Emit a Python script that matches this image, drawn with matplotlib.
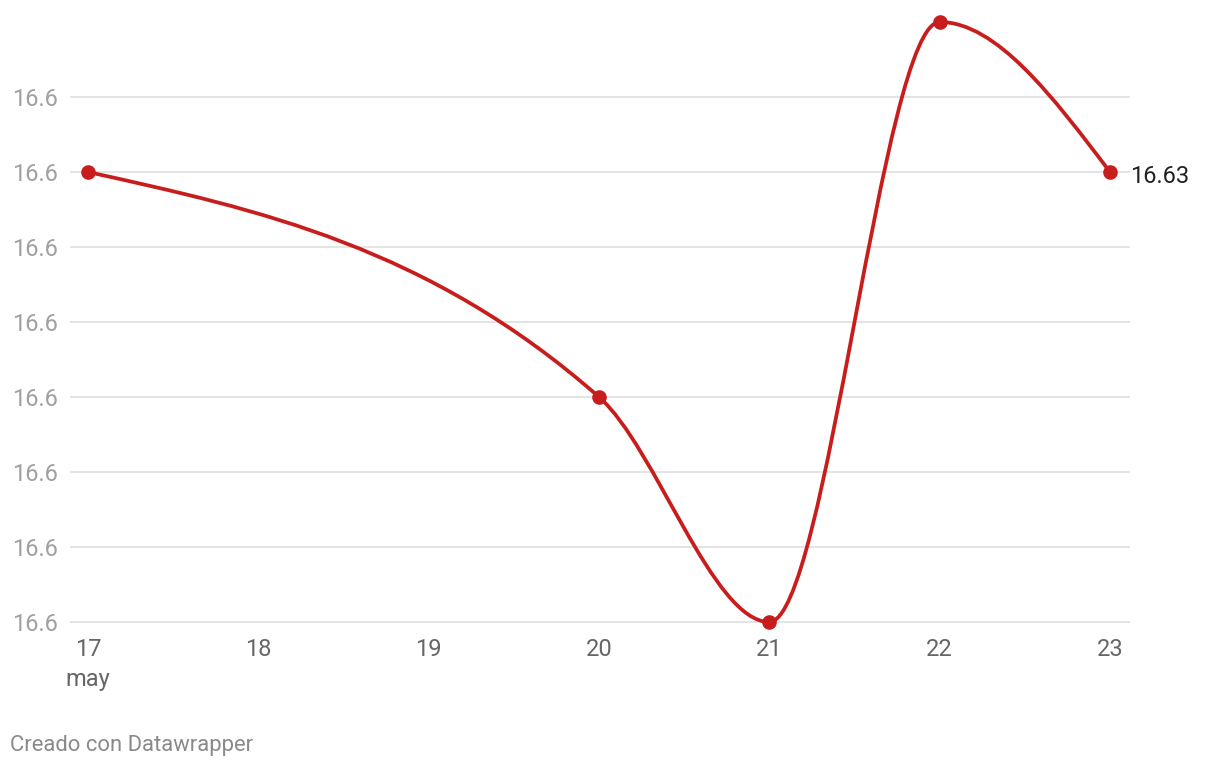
import numpy as np
import matplotlib
matplotlib.use("Agg")
import matplotlib.pyplot as plt
from matplotlib.path import Path
from matplotlib.patches import PathPatch
from matplotlib.ticker import FormatStrFormatter

plt.rcParams['font.family'] = ['Roboto', 'DejaVu Sans']

# data: days of May and values
days = [17, 20, 21, 22, 23]
values = [16.630, 16.627, 16.624, 16.632, 16.630]
x_ticks = [17, 18, 19, 20, 21, 22, 23]
y_ticks = [16.624, 16.625, 16.626, 16.627, 16.628, 16.629, 16.630, 16.631]
month_label = "may"
last_label = "16.63"
footer = "Creado con Datawrapper"

RED = "#c71e1d"


def monotone_path(x, y):
    # d3 curveMonotoneX style cubic bezier path
    x = np.asarray(x, float)
    y = np.asarray(y, float)
    n = len(x)
    h = np.diff(x)
    s = np.diff(y) / h
    t = np.zeros(n)
    for i in range(1, n - 1):
        p = (s[i - 1] * h[i] + s[i] * h[i - 1]) / (h[i - 1] + h[i])
        t[i] = (np.sign(s[i - 1]) + np.sign(s[i])) * min(abs(s[i - 1]), abs(s[i]), 0.5 * abs(p))
    t[0] = (3 * s[0] - t[1]) / 2
    t[-1] = (3 * s[-1] - t[-2]) / 2
    verts = [(x[0], y[0])]
    codes = [Path.MOVETO]
    for i in range(n - 1):
        dx = (x[i + 1] - x[i]) / 3
        verts += [(x[i] + dx, y[i] + dx * t[i]),
                  (x[i + 1] - dx, y[i + 1] - dx * t[i + 1]),
                  (x[i + 1], y[i + 1])]
        codes += [Path.CURVE4] * 3
    return Path(verts, codes)


W, H = 1220, 768
fig = plt.figure(figsize=(W / 100, H / 100), dpi=100)
ax = fig.add_axes([70 / W, (H - 630) / H, 1060 / W, 620 / H])

px_day = (1110 - 88) / 6
ax.set_xlim(17 - 18 / px_day, 23 + 20 / px_day)
ax.set_ylim(16.624 - 8 / 75 * 0.001, 16.632 + 12 / 75 * 0.001)

for yt in y_ticks:
    ax.axhline(yt, color="#e2e2e2", lw=1.3, zorder=1)

ax.add_patch(PathPatch(monotone_path(days, values), fill=False,
                       edgecolor=RED, lw=2.7, zorder=3, capstyle='round'))
ax.plot(days, values, 'o', color=RED, ms=9.5, zorder=4)

ax.text(days[-1] + 20 / px_day, values[-1] - 4 / 75 * 0.001, last_label,
        ha='left', va='center', fontsize=17, color="#222222")

ax.set_xticks(x_ticks)
ax.set_yticks(y_ticks)
ax.yaxis.set_major_formatter(FormatStrFormatter('%.1f'))
ax.tick_params(axis='y', length=0, pad=9, labelsize=17, labelcolor="#a0a0a0")
ax.tick_params(axis='x', length=0, pad=6, labelsize=17, labelcolor="#666666")
for sp in ax.spines.values():
    sp.set_visible(False)

ax.text(17, -0.062, month_label, transform=ax.get_xaxis_transform(),
        ha='center', va='top', fontsize=17, color="#666666")

fig.text(10 / W, 1 - 746 / H, footer, ha='left', va='center',
         fontsize=15.8, color="#8a8a8a")

fig.savefig("out.png", dpi=100)
